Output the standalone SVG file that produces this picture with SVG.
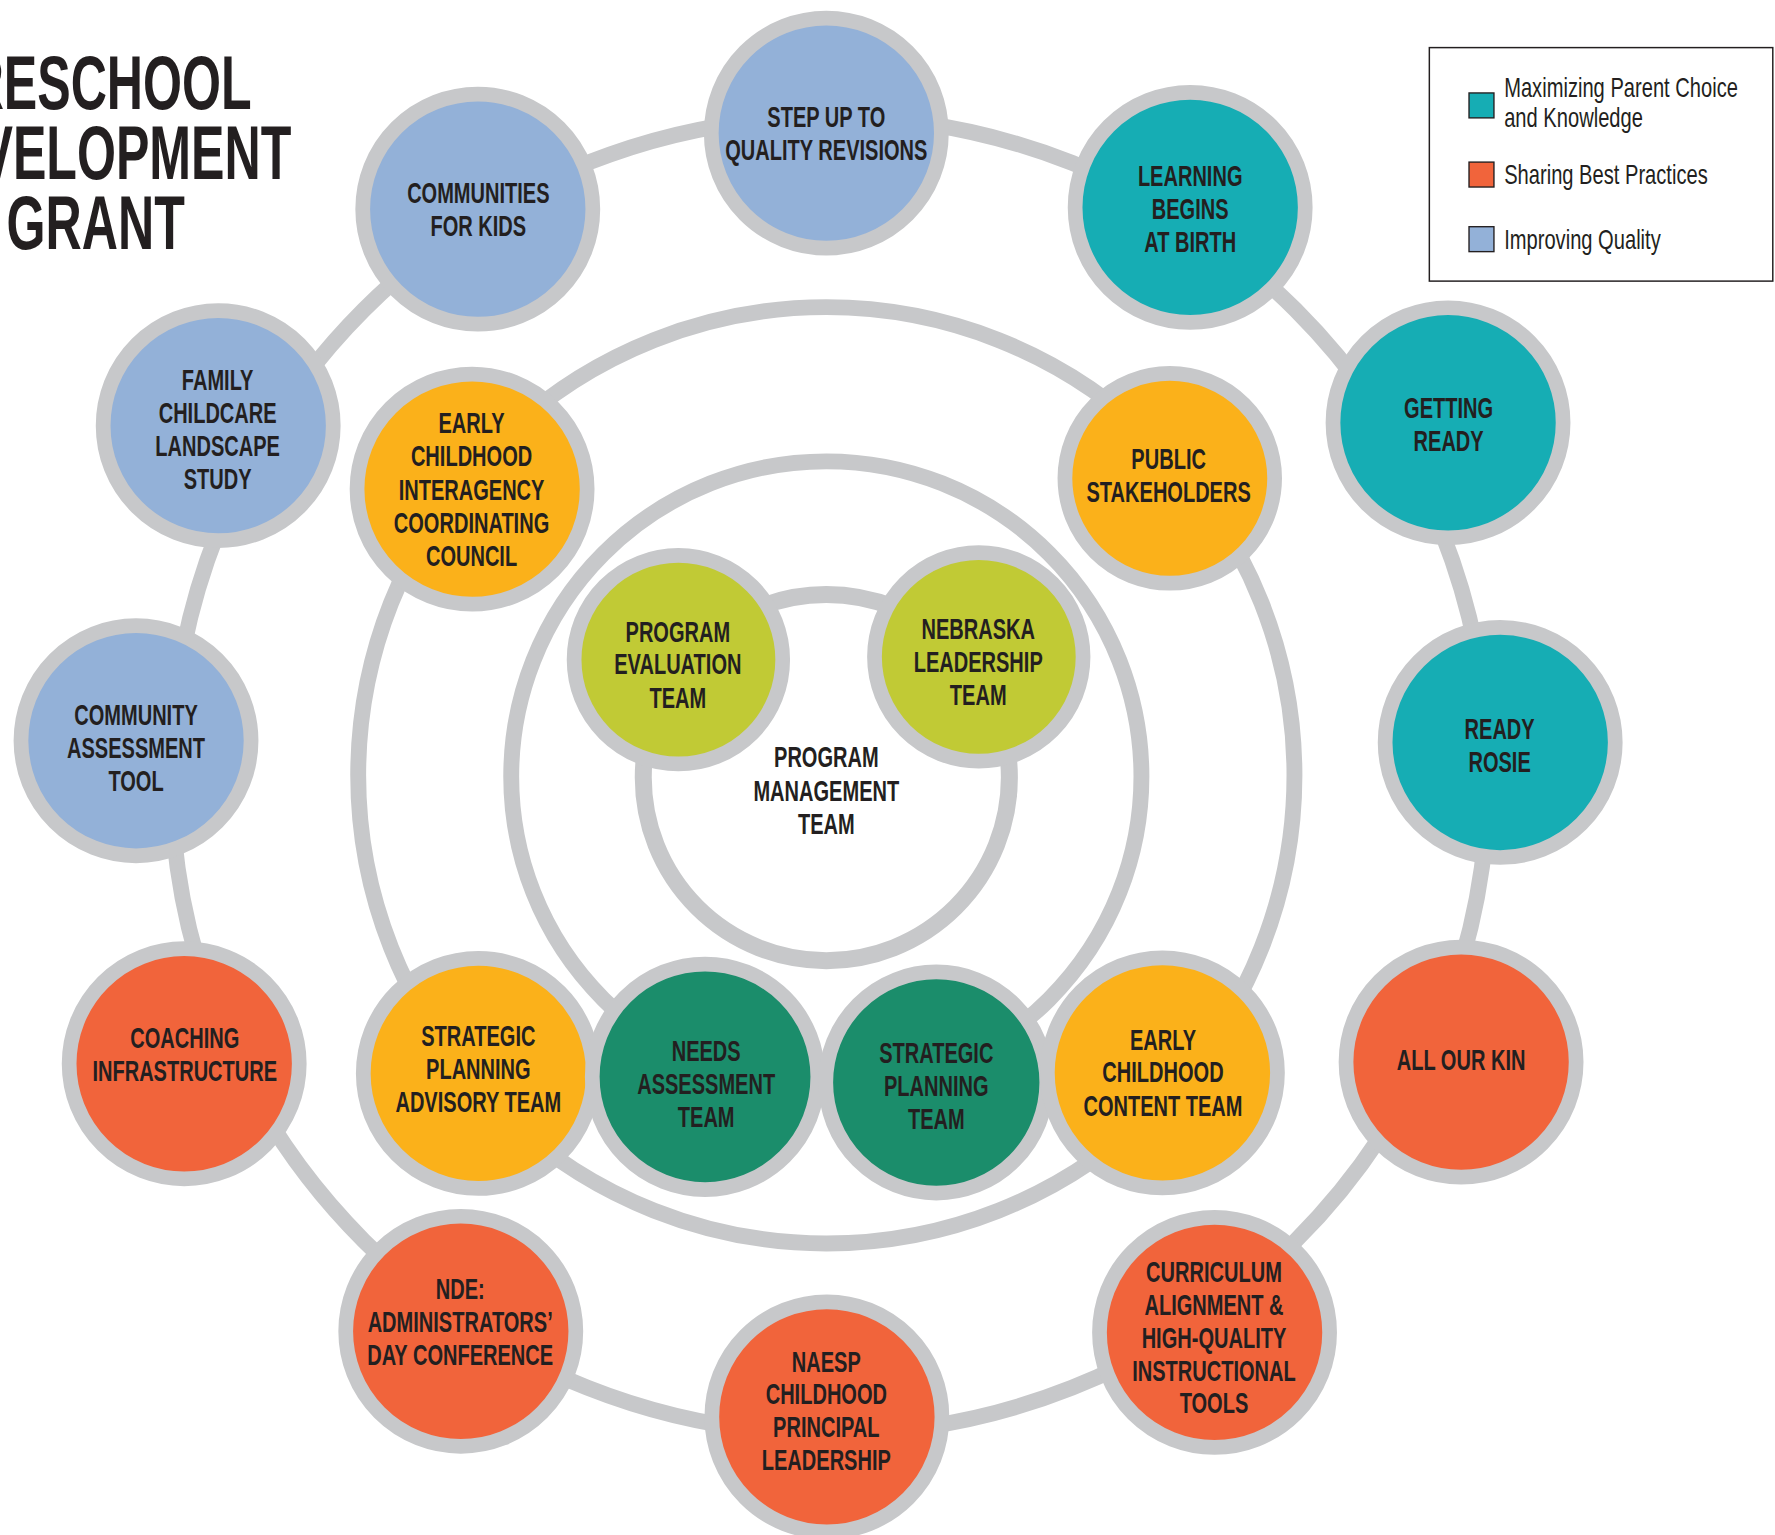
<svg xmlns="http://www.w3.org/2000/svg" width="1775" height="1535" viewBox="0 0 1775 1535">
<style>
.bg{fill:#ffffff}
.ring{fill:none;stroke:#c7c8ca}
.node{stroke:#c7c8ca;stroke-width:13}
.blue{fill:#93b1d8}
.teal{fill:#16adb4}
.red{fill:#f1643b}
.gold{fill:#fbb11a}
.lime{fill:#c1ca35}
.dgreen{fill:#1b8d6b}
.t{font-family:"Liberation Sans",Arial,sans-serif;font-weight:bold;font-size:26px;fill:#231f20;text-anchor:middle}
.title{font-family:"Liberation Sans",Arial,sans-serif;font-weight:bold;font-size:67px;fill:#231f20;text-anchor:end}
.lg{font-family:"Liberation Sans",Arial,sans-serif;font-size:24px;fill:#231f20}
.sw{stroke:#231f20;stroke-width:1.2}
</style>
<rect class="bg" x="0" y="0" width="1775" height="1535"/>
<g transform="scale(1.1335)">
<g id="title">
<text class="title" transform="translate(222 0) scale(0.66 1)" x="0" y="96">RESCHOOL</text>
<text class="title" transform="translate(257 0) scale(0.66 1)" x="0" y="158">VELOPMENT</text>
<text class="title" transform="translate(163 0) scale(0.66 1)" x="0" y="220">GRANT</text>
</g>
<g id="connectors">
<circle class="ring" stroke-width="14" cx="732" cy="684" r="581"/>
<circle class="ring" stroke-width="14" cx="729" cy="684" r="413"/>
<circle class="ring" stroke-width="14" cx="729" cy="685" r="278"/>
<circle class="ring" stroke-width="15" cx="729" cy="686" r="161.5"/>
</g>
<g id="n-pmt">
<text class="t" transform="translate(729 0) scale(0.68 1)" x="0" y="677">PROGRAM</text>
<text class="t" transform="translate(729 0) scale(0.68 1)" x="0" y="707">MANAGEMENT</text>
<text class="t" transform="translate(729 0) scale(0.68 1)" x="0" y="736">TEAM</text>
</g>
<g id="n-stepup">
<circle class="node blue" cx="729" cy="117.5" r="101.5"/>
<text class="t" transform="translate(729 0) scale(0.68 1)" x="0" y="112">STEP UP TO</text>
<text class="t" transform="translate(729 0) scale(0.68 1)" x="0" y="141">QUALITY REVISIONS</text>
</g>
<g id="n-learning">
<circle class="node teal" cx="1050" cy="183" r="101.5"/>
<text class="t" transform="translate(1050 0) scale(0.68 1)" x="0" y="164">LEARNING</text>
<text class="t" transform="translate(1050 0) scale(0.68 1)" x="0" y="193">BEGINS</text>
<text class="t" transform="translate(1050 0) scale(0.68 1)" x="0" y="222">AT BIRTH</text>
</g>
<g id="n-getting">
<circle class="node teal" cx="1277.5" cy="373" r="101.5"/>
<text class="t" transform="translate(1278 0) scale(0.68 1)" x="0" y="369">GETTING</text>
<text class="t" transform="translate(1278 0) scale(0.68 1)" x="0" y="398">READY</text>
</g>
<g id="n-rosie">
<circle class="node teal" cx="1323.5" cy="655" r="101.5"/>
<text class="t" transform="translate(1323 0) scale(0.68 1)" x="0" y="652">READY</text>
<text class="t" transform="translate(1323 0) scale(0.68 1)" x="0" y="681">ROSIE</text>
</g>
<g id="n-kin">
<circle class="node red" cx="1289" cy="937" r="101.5"/>
<text class="t" transform="translate(1289 0) scale(0.68 1)" x="0" y="944">ALL OUR KIN</text>
</g>
<g id="n-curriculum">
<circle class="node red" cx="1071.5" cy="1175.5" r="101.5"/>
<text class="t" transform="translate(1071 0) scale(0.68 1)" x="0" y="1131">CURRICULUM</text>
<text class="t" transform="translate(1071 0) scale(0.68 1)" x="0" y="1160">ALIGNMENT &amp;</text>
<text class="t" transform="translate(1071 0) scale(0.68 1)" x="0" y="1189">HIGH-QUALITY</text>
<text class="t" transform="translate(1071 0) scale(0.68 1)" x="0" y="1218">INSTRUCTIONAL</text>
<text class="t" transform="translate(1071 0) scale(0.68 1)" x="0" y="1247">TOOLS</text>
</g>
<g id="n-naesp">
<circle class="node red" cx="729.5" cy="1250" r="101.5"/>
<text class="t" transform="translate(729 0) scale(0.68 1)" x="0" y="1210">NAESP</text>
<text class="t" transform="translate(729 0) scale(0.68 1)" x="0" y="1239">CHILDHOOD</text>
<text class="t" transform="translate(729 0) scale(0.68 1)" x="0" y="1268">PRINCIPAL</text>
<text class="t" transform="translate(729 0) scale(0.68 1)" x="0" y="1297">LEADERSHIP</text>
</g>
<g id="n-nde">
<circle class="node red" cx="406.5" cy="1174.5" r="101.5"/>
<text class="t" transform="translate(406 0) scale(0.68 1)" x="0" y="1146">NDE:</text>
<text class="t" transform="translate(406 0) scale(0.68 1)" x="0" y="1175">ADMINISTRATORS’</text>
<text class="t" transform="translate(406 0) scale(0.68 1)" x="0" y="1204">DAY CONFERENCE</text>
</g>
<g id="n-coaching">
<circle class="node red" cx="162.5" cy="938.5" r="101.5"/>
<text class="t" transform="translate(163 0) scale(0.68 1)" x="0" y="925">COACHING</text>
<text class="t" transform="translate(163 0) scale(0.68 1)" x="0" y="954">INFRASTRUCTURE</text>
</g>
<g id="n-cat">
<circle class="node blue" cx="120" cy="653.5" r="101.5"/>
<text class="t" transform="translate(120 0) scale(0.68 1)" x="0" y="640">COMMUNITY</text>
<text class="t" transform="translate(120 0) scale(0.68 1)" x="0" y="669">ASSESSMENT</text>
<text class="t" transform="translate(120 0) scale(0.68 1)" x="0" y="698">TOOL</text>
</g>
<g id="n-family">
<circle class="node blue" cx="192.5" cy="375.5" r="101.5"/>
<text class="t" transform="translate(192 0) scale(0.68 1)" x="0" y="344">FAMILY</text>
<text class="t" transform="translate(192 0) scale(0.68 1)" x="0" y="373">CHILDCARE</text>
<text class="t" transform="translate(192 0) scale(0.68 1)" x="0" y="402">LANDSCAPE</text>
<text class="t" transform="translate(192 0) scale(0.68 1)" x="0" y="431">STUDY</text>
</g>
<g id="n-communities">
<circle class="node blue" cx="421.5" cy="184.5" r="101.5"/>
<text class="t" transform="translate(422 0) scale(0.68 1)" x="0" y="179">COMMUNITIES</text>
<text class="t" transform="translate(422 0) scale(0.68 1)" x="0" y="208">FOR KIDS</text>
</g>
<g id="n-eicc">
<circle class="node gold" cx="416.5" cy="431.5" r="101.5"/>
<text class="t" transform="translate(416 0) scale(0.68 1)" x="0" y="382">EARLY</text>
<text class="t" transform="translate(416 0) scale(0.68 1)" x="0" y="411">CHILDHOOD</text>
<text class="t" transform="translate(416 0) scale(0.68 1)" x="0" y="441">INTERAGENCY</text>
<text class="t" transform="translate(416 0) scale(0.68 1)" x="0" y="470">COORDINATING</text>
<text class="t" transform="translate(416 0) scale(0.68 1)" x="0" y="499">COUNCIL</text>
</g>
<g id="n-public">
<circle class="node gold" cx="1032" cy="422" r="92.5"/>
<text class="t" transform="translate(1031 0) scale(0.68 1)" x="0" y="414">PUBLIC</text>
<text class="t" transform="translate(1031 0) scale(0.68 1)" x="0" y="443">STAKEHOLDERS</text>
</g>
<g id="n-eval">
<circle class="node lime" cx="598.5" cy="582" r="92"/>
<text class="t" transform="translate(598 0) scale(0.68 1)" x="0" y="566">PROGRAM</text>
<text class="t" transform="translate(598 0) scale(0.68 1)" x="0" y="595">EVALUATION</text>
<text class="t" transform="translate(598 0) scale(0.68 1)" x="0" y="625">TEAM</text>
</g>
<g id="n-nebraska">
<circle class="node lime" cx="863.5" cy="579.5" r="92"/>
<text class="t" transform="translate(863 0) scale(0.68 1)" x="0" y="564">NEBRASKA</text>
<text class="t" transform="translate(863 0) scale(0.68 1)" x="0" y="593">LEADERSHIP</text>
<text class="t" transform="translate(863 0) scale(0.68 1)" x="0" y="622">TEAM</text>
</g>
<g id="n-spat">
<circle class="node gold" cx="422" cy="947" r="101.5"/>
<text class="t" transform="translate(422 0) scale(0.68 1)" x="0" y="923">STRATEGIC</text>
<text class="t" transform="translate(422 0) scale(0.68 1)" x="0" y="952">PLANNING</text>
<text class="t" transform="translate(422 0) scale(0.68 1)" x="0" y="981">ADVISORY TEAM</text>
</g>
<g id="n-needs">
<circle class="node dgreen" cx="622" cy="950" r="99.5"/>
<text class="t" transform="translate(623 0) scale(0.68 1)" x="0" y="936">NEEDS</text>
<text class="t" transform="translate(623 0) scale(0.68 1)" x="0" y="965">ASSESSMENT</text>
<text class="t" transform="translate(623 0) scale(0.68 1)" x="0" y="994">TEAM</text>
</g>
<g id="n-spt">
<circle class="node dgreen" cx="826" cy="955" r="97.5"/>
<text class="t" transform="translate(826 0) scale(0.68 1)" x="0" y="938">STRATEGIC</text>
<text class="t" transform="translate(826 0) scale(0.68 1)" x="0" y="967">PLANNING</text>
<text class="t" transform="translate(826 0) scale(0.68 1)" x="0" y="996">TEAM</text>
</g>
<g id="n-ecct">
<circle class="node gold" cx="1025.5" cy="946.5" r="101.5"/>
<text class="t" transform="translate(1026 0) scale(0.68 1)" x="0" y="926">EARLY</text>
<text class="t" transform="translate(1026 0) scale(0.68 1)" x="0" y="955">CHILDHOOD</text>
<text class="t" transform="translate(1026 0) scale(0.68 1)" x="0" y="985">CONTENT TEAM</text>
</g>
<g id="legend">
<rect x="1261" y="42" width="303" height="206" fill="#ffffff" stroke="#231f20" stroke-width="1.3"/>
<rect class="sw teal" x="1296" y="82" width="22" height="22"/>
<rect class="sw red" x="1296" y="143" width="22" height="22"/>
<rect class="sw blue" x="1296" y="200" width="22" height="22"/>
<text class="lg" transform="translate(1327 0) scale(0.74 1)" x="0" y="86">Maximizing Parent Choice</text>
<text class="lg" transform="translate(1327 0) scale(0.74 1)" x="0" y="112">and Knowledge</text>
<text class="lg" transform="translate(1327 0) scale(0.74 1)" x="0" y="162">Sharing Best Practices</text>
<text class="lg" transform="translate(1327 0) scale(0.74 1)" x="0" y="220">Improving Quality</text>
</g>
</g>
</svg>
